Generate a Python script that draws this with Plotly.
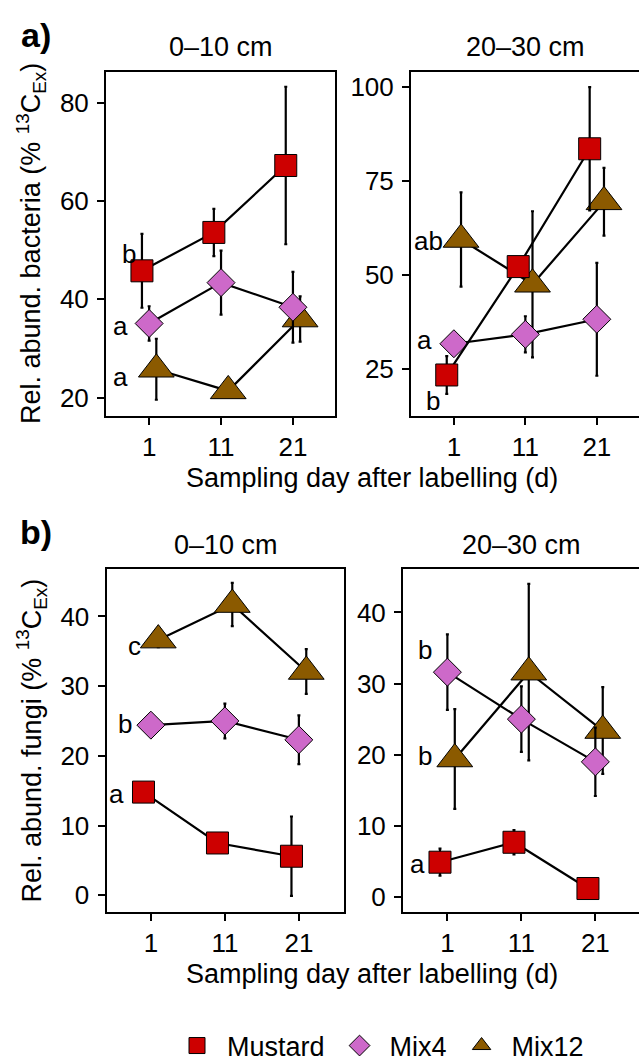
import plotly.graph_objects as go

# ---------------- data ----------------
days = [1, 11, 21]
series_names = ["Mustard", "Mix4", "Mix12"]
depth_labels = ["0–10 cm", "20–30 cm"]

# a) bacteria, 0-10 cm
bact_top_mustard = [45.8, 53.6, 67.2]
bact_top_mustard_se = [7.5, 4.8, 16.0]
bact_top_mix4 = [35.1, 43.4, 38.4]
bact_top_mix4_se = [3.5, 6.5, 7.2]
bact_top_mix12 = [25.8, 21.4, 36.0]
bact_top_mix12_se = [6.2, 1.0, 4.6]
bact_top_letters = ["b", "a", "a"]

# a) bacteria, 20-30 cm
bact_sub_mustard = [23.5, 52.3, 83.6]
bact_sub_mustard_se = [5.0, 2.5, 16.4]
bact_sub_mix4 = [31.8, 34.3, 38.3]
bact_sub_mix4_se = [2.0, 4.8, 15.0]
bact_sub_mix12 = [59.5, 47.6, 69.5]
bact_sub_mix12_se = [12.5, 19.4, 9.0]
bact_sub_letters = ["b", "a", "ab"]

# b) fungi, 0-10 cm
fung_top_mustard = [14.8, 7.5, 5.6]
fung_top_mustard_se = [1.0, 1.0, 5.7]
fung_top_mix4 = [24.4, 25.0, 22.3]
fung_top_mix4_se = [1.0, 2.5, 3.5]
fung_top_mix12 = [36.6, 41.7, 32.1]
fung_top_mix12_se = [1.0, 3.1, 3.2]
fung_top_letters = ["a", "b", "c"]

# b) fungi, 20-30 cm
fung_sub_mustard = [4.9, 7.7, 1.2]
fung_sub_mustard_se = [1.9, 1.7, 0.8]
fung_sub_mix4 = [31.6, 25.0, 19.0]
fung_sub_mix4_se = [5.3, 4.6, 4.8]
fung_sub_mix12 = [19.4, 31.6, 23.4]
fung_sub_mix12_se = [7.0, 12.4, 6.1]
fung_sub_letters = ["a", "b", "b"]

# ---------------- styling ----------------
W, H = 639, 1062
FONT = "Liberation Sans, Arial, Helvetica, sans-serif"
colors = {"Mustard": "#CD0000", "Mix4": "#CD69C9", "Mix12": "#8B5A00"}
symbols = {"Mustard": "square", "Mix4": "diamond", "Mix12": "triangle-up"}
msize = {"Mustard": 22, "Mix4": 21.5, "Mix12": 31}
dodge = {"Mustard": -1.0, "Mix4": 0.0, "Mix12": 1.0}
draw_order = ["Mix12", "Mix4", "Mustard"]

def px_x(p):
    return p / W

def px_y(p):
    return 1 - p / H

panels = [
    dict(ax="", vals={"Mustard": (bact_top_mustard, bact_top_mustard_se),
                      "Mix4": (bact_top_mix4, bact_top_mix4_se),
                      "Mix12": (bact_top_mix12, bact_top_mix12_se)},
         letters=bact_top_letters,
         lab_dx={"Mustard": -2.85, "Mix4": -3.96, "Mix12": -3.96},
         lab_dy={"Mustard": 3.4, "Mix4": -0.6, "Mix12": -1.6},
         xdom=(106, 335), ydom=(72, 416), xr=[-5, 26.85], yr=[16.3, 86.2],
         yticks=[20, 40, 60, 80]),
    dict(ax="2", vals={"Mustard": (bact_sub_mustard, bact_sub_mustard_se),
                       "Mix4": (bact_sub_mix4, bact_sub_mix4_se),
                       "Mix12": (bact_sub_mix12, bact_sub_mix12_se)},
         letters=bact_sub_letters,
         lab_dx={"Mustard": -2.9, "Mix4": -4.1, "Mix12": -3.5},
         lab_dy={"Mustard": -6.9, "Mix4": 1.0, "Mix12": -0.3},
         xdom=(411, 639), ydom=(72, 416), xr=[-5, 26.9], yr=[12.6, 104],
         yticks=[25, 50, 75, 100]),
    dict(ax="3", vals={"Mustard": (fung_top_mustard, fung_top_mustard_se),
                       "Mix4": (fung_top_mix4, fung_top_mix4_se),
                       "Mix12": (fung_top_mix12, fung_top_mix12_se)},
         letters=fung_top_letters,
         lab_dx={"Mustard": -4.7, "Mix4": -3.5, "Mix12": -2.2},
         lab_dy={"Mustard": -0.3, "Mix4": 0.1, "Mix12": -0.8},
         xdom=(106.5, 344), ydom=(569, 912), xr=[-5, 27.1], yr=[-2.4, 46.8],
         yticks=[0, 10, 20, 30, 40]),
    dict(ax="4", vals={"Mustard": (fung_sub_mustard, fung_sub_mustard_se),
                       "Mix4": (fung_sub_mix4, fung_sub_mix4_se),
                       "Mix12": (fung_sub_mix12, fung_sub_mix12_se)},
         letters=fung_sub_letters,
         lab_dx={"Mustard": -4.1, "Mix4": -3.0, "Mix12": -3.0},
         lab_dy={"Mustard": -0.2, "Mix4": 3.1, "Mix12": 0.4},
         xdom=(403, 639), ydom=(569, 912), xr=[-5, 26.9], yr=[-2.1, 46.1],
         yticks=[0, 10, 20, 30, 40]),
]

fig = go.Figure()
annotations = []
layout = {}

# legend entries (markers only, like the reference key)
for name in series_names:
    fig.add_trace(go.Scatter(
        x=[None], y=[None], mode="markers", name=name, legendgroup=name,
        showlegend=True,
        marker=dict(symbol=symbols[name], size=msize[name], color=colors[name],
                    line=dict(color="black", width=1)),
    ))

for i, p in enumerate(panels):
    xa = "x" + p["ax"]
    ya = "y" + p["ax"]
    for name in draw_order:
        vals, se = p["vals"][name]
        fig.add_trace(go.Scatter(
            x=[d + dodge[name] for d in days], y=vals,
            xaxis=xa, yaxis=ya,
            mode="lines+markers",
            name=name, legendgroup=name, showlegend=False,
            line=dict(color="black", width=2.2),
            marker=dict(symbol=symbols[name], size=msize[name], color=colors[name],
                        line=dict(color="black", width=1)),
            error_y=dict(type="data", array=se, visible=True, color="black",
                         thickness=2.2, width=1.5),
            cliponaxis=False,
        ))
    # significance letters (placed beside the day-1 point of each series)
    for name, letter in zip(series_names, p["letters"]):
        vals, _ = p["vals"][name]
        annotations.append(dict(
            x=days[0] + p["lab_dx"][name], y=vals[0] + p["lab_dy"][name],
            xref=xa, yref=ya, text=letter, showarrow=False,
            font=dict(size=26, color="black", family=FONT),
            xanchor="center", yanchor="middle"))

    right = p["ax"] in ("2", "4")
    xkey = "xaxis" + p["ax"]
    ykey = "yaxis" + p["ax"]
    layout[xkey] = dict(
        domain=[px_x(p["xdom"][0]), min(1.0, px_x(p["xdom"][1]))],
        range=p["xr"], anchor=ya, tickvals=days, ticktext=[str(d) for d in days],
        showline=True, linecolor="black", linewidth=2, mirror=True,
        ticks="outside", ticklen=7, tickwidth=2, tickcolor="black",
        showgrid=False, zeroline=False,
        tickfont=dict(size=26, color="black", family=FONT))
    layout[ykey] = dict(
        domain=[px_y(p["ydom"][1]), px_y(p["ydom"][0])],
        range=p["yr"], anchor=xa, tickvals=p["yticks"],
        showline=True, linecolor="black", linewidth=2, mirror=(not right),
        ticks="outside", ticklen=7, tickwidth=2, tickcolor="black",
        showgrid=False, zeroline=False, ticklabelstandoff=3,
        tickfont=dict(size=26, color="black", family=FONT))
    # strip titles
    annotations.append(dict(
        x=px_x((p["xdom"][0] + min(p["xdom"][1] + 1, 640)) / 2),
        y=px_y(47 if p["ydom"][0] < 500 else 545),
        xref="paper", yref="paper", text=depth_labels[i % 2], showarrow=False,
        font=dict(size=27, color="black", family=FONT),
        xanchor="center", yanchor="middle"))

# axis titles
for ymid, ylab in [(244, "Rel. abund. bacteria (% <sup>13</sup>C<sub>Ex</sub>)"),
                   (740.5, "Rel. abund. fungi (% <sup>13</sup>C<sub>Ex</sub>)")]:
    annotations.append(dict(
        x=px_x(31), y=px_y(ymid), xref="paper", yref="paper", text=ylab,
        textangle=-90, showarrow=False,
        font=dict(size=27, color="black", family=FONT),
        xanchor="center", yanchor="middle"))
for ymid in (478, 974):
    annotations.append(dict(
        x=px_x(372), y=px_y(ymid), xref="paper", yref="paper",
        text="Sampling day after labelling (d)", showarrow=False,
        font=dict(size=27, color="black", family=FONT),
        xanchor="center", yanchor="middle"))
# panel tags
for ymid, tag in [(35, "a)"), (532, "b)")]:
    annotations.append(dict(
        x=px_x(35.5), y=px_y(ymid), xref="paper", yref="paper",
        text="<b>" + tag + "</b>", showarrow=False,
        font=dict(size=34, color="black", family=FONT),
        xanchor="center", yanchor="middle"))

fig.update_layout(
    width=W, height=H, margin=dict(l=0, r=0, t=0, b=0, autoexpand=False),
    paper_bgcolor="white", plot_bgcolor="white",
    font=dict(family=FONT, color="black"),
    annotations=annotations,
    legend=dict(orientation="h", x=px_x(378), xanchor="center",
                y=-0.008, yanchor="bottom", itemwidth=50,
                font=dict(size=27, color="black", family=FONT),
                bgcolor="rgba(0,0,0,0)"),
    **layout,
)

fig.write_html("out.html")
